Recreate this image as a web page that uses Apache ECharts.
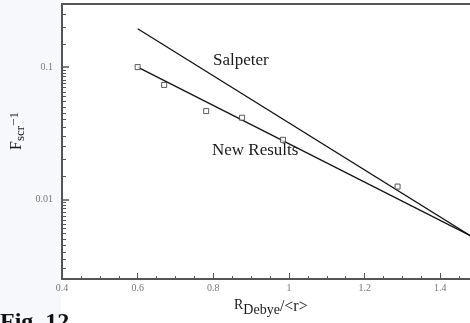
<!DOCTYPE html>
<html><head><meta charset="utf-8">
<script src="https://cdn.jsdelivr.net/npm/echarts@6/dist/echarts.min.js"></script>
<style>html,body{margin:0;padding:0;background:#fff;overflow:hidden}#c{width:470px;height:323px}</style>
</head><body><div id="c"></div>
<script>
// ---- data ----
const pointsX = [0.6, 0.67, 0.781, 0.876, 0.984, 1.287];
const pointsY = [0.1, 0.0733, 0.0465, 0.0414, 0.0282, 0.0125];
const salpeterX = [0.6, 1.48];
const salpeterY = [0.195, 0.0053];
const newResultsX = [0.6, 1.48];
const newResultsY = [0.1, 0.0053];
const lineLabels = ['Salpeter', 'New Results'];
const xTickLabels = ['0.4', '0.6', '0.8', '1', '1.2', '1.4'];
const yMajorTicks = [0.01, 0.1];
const yTickLabels = ['0.01', '0.1'];
const yMinorTicks = [];
for (let i = 5; i <= 19; i++) yMinorTicks.push(i * 0.0005);
for (let i = 3; i <= 19; i++) yMinorTicks.push(i * 0.005);
yMinorTicks.push(0.15, 0.2, 0.25);

const SERIF = '"Liberation Serif", "DejaVu Serif", serif';
const AX = '#555';
const zip = (a, b) => a.map((v, i) => [v, b[i]]);

const ctx = document.createElement('canvas').getContext('2d');
function tw(text, size, weight) { ctx.font = (weight || 'normal') + ' ' + size + 'px ' + SERIF; return ctx.measureText(text).width; }

function txt(text, x, y, size, opts) {
  opts = opts || {};
  return {
    type: 'text', x: x, y: y, rotation: opts.rotation || 0, silent: true, z: 100,
    style: { text: text, fontFamily: SERIF, fontSize: size, fontWeight: opts.weight || 'normal',
      fill: opts.fill || '#1a1a1a', align: 'left', verticalAlign: opts.va || 'middle' }
  };
}

const graphics = [];
graphics.push({ type: 'rect', shape: { x: 0, y: 0, width: 61, height: 323 }, style: { fill: '#f6f8fc' }, silent: true, z: -10 });
// curve labels
graphics.push(txt(lineLabels[0], 213, 61, 17));
graphics.push(txt(lineLabels[1], 212, 151, 17));
// x axis title: R_Debye/<r>
let xx = 234;
graphics.push(txt('R', xx, 305.4, 14)); xx += tw('R', 14);
graphics.push(txt('Debye', xx, 310.4, 14)); xx += tw('Debye', 14);
graphics.push(txt('/<r>', xx, 306.5, 16));
// y axis title: F_scr-1 (rotated)
let yy = 150;
const rot = Math.PI / 2;
graphics.push(txt('F', 17, yy, 16, { rotation: rot })); yy -= tw('F', 16);
graphics.push(txt('scr', 21, yy, 13, { rotation: rot })); yy -= tw('scr', 13);
graphics.push(txt('\u22121', 15, yy, 13, { rotation: rot }));
// figure caption (cut at the bottom)
graphics.push(txt('Fig. 12', 0, 311, 24, { weight: 'bold', va: 'top', fill: '#111' }));

const chart = echarts.init(document.getElementById('c'), null, { renderer: 'canvas' });
chart.setOption({
  animation: false,
  backgroundColor: '#fff',
  grid: { left: 62, top: 4, width: 454, height: 275, containLabel: false, outerBoundsMode: 'none' },
  xAxis: [{
    type: 'value', min: 0.4, max: 1.6, interval: 0.2,
    axisLine: { show: true, lineStyle: { color: AX, width: 2 } },
    axisTick: { show: true, inside: true, length: 6, lineStyle: { color: AX, width: 1 } },
    minorTick: { show: true, splitNumber: 4, length: 3, lineStyle: { color: AX, width: 1 } },
    splitLine: { show: false }, minorSplitLine: { show: false },
    axisLabel: { show: true, margin: 4, fontSize: 10, color: '#777', fontFamily: SERIF,
      formatter: v => { const i = xTickLabels.findIndex(t => Math.abs(parseFloat(t) - v) < 1e-6); return i >= 0 ? xTickLabels[i] : ''; } }
  }, {
    type: 'value', position: 'top', min: 0.4, max: 1.6,
    axisLine: { show: true, lineStyle: { color: AX, width: 2 } },
    axisTick: { show: false }, axisLabel: { show: false }, splitLine: { show: false }
  }],
  yAxis: [{
    type: 'log', logBase: 10, min: 0.0025, max: 0.3,
    axisLine: { show: true, lineStyle: { color: AX, width: 2 } },
    axisTick: { show: true, inside: true, length: 7, lineStyle: { color: AX, width: 1.5 } },
    splitLine: { show: false },
    axisLabel: { show: true, margin: 9, fontSize: 10, color: '#777', fontFamily: SERIF, showMinLabel: false, showMaxLabel: false,
      formatter: v => { const i = yMajorTicks.findIndex(t => Math.abs(t - v) / t < 1e-6); return i >= 0 ? yTickLabels[i] : ''; } }
  }, {
    type: 'value', position: 'left', min: Math.log10(0.0025), max: Math.log10(0.3),
    axisLine: { show: false },
    axisTick: { show: true, inside: true, length: 4, customValues: yMinorTicks.map(v => Math.log10(v)), lineStyle: { color: AX, width: 1 } },
    axisLabel: { show: false }, splitLine: { show: false }
  }],
  series: [
    { name: lineLabels[0], type: 'line', data: zip(salpeterX, salpeterY), showSymbol: false, symbol: 'none',
      lineStyle: { color: '#111', width: 1.3 }, z: 3 },
    { name: lineLabels[1], type: 'line', data: zip(newResultsX, newResultsY), showSymbol: false, symbol: 'none',
      lineStyle: { color: '#111', width: 1.3 }, z: 3 },
    { name: 'points', type: 'scatter', data: zip(pointsX, pointsY), symbol: 'rect', symbolSize: 5,
      itemStyle: { color: '#fff', borderColor: '#333', borderWidth: 1 }, z: 4 }
  ],
  graphic: graphics
});
</script></body></html>
